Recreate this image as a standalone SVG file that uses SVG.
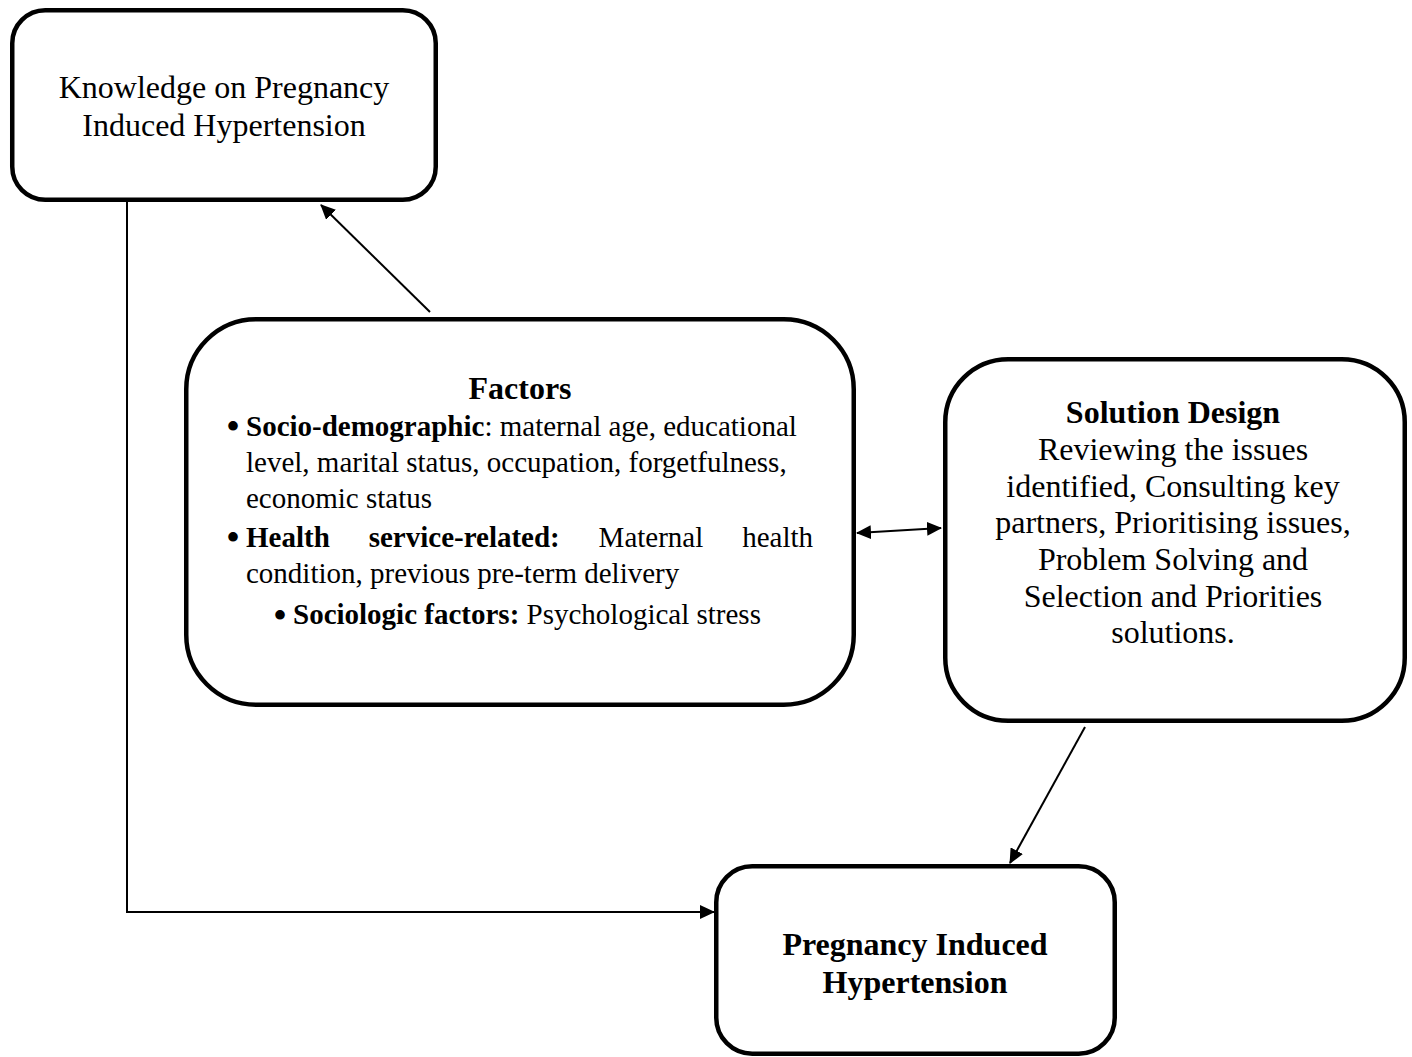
<svg xmlns="http://www.w3.org/2000/svg" width="1412" height="1057" viewBox="0 0 1412 1057">
  <style>
    .box { fill: #ffffff; stroke: #000000; stroke-width: 4.5; }
    .conn { fill: none; stroke: #000000; stroke-width: 2; }
    text { font-family: "Liberation Serif", "Times New Roman", serif; fill: #000000; }
    .t32 { font-size: 32px; }
    .t29 { font-size: 29px; }
    .bul { font-size: 40px; }
    .b { font-weight: bold; }
    .c { text-anchor: middle; }
  </style>
  <defs>
    <marker id="arr" viewBox="0 0 15 14" markerWidth="15" markerHeight="14" refX="14" refY="7" orient="auto-start-reverse" markerUnits="userSpaceOnUse">
      <path d="M0,0 L15,7 L0,14 z" fill="#000000"/>
    </marker>
  </defs>
  <rect width="1412" height="1057" fill="#ffffff"/>

  <g id="connectors">
    <line class="conn" x1="430" y1="312" x2="321" y2="205" marker-end="url(#arr)"/>
    <polyline class="conn" points="127,202 127,912 714,912" marker-end="url(#arr)"/>
    <line class="conn" x1="857" y1="533" x2="941" y2="528" marker-start="url(#arr)" marker-end="url(#arr)"/>
    <line class="conn" x1="1085" y1="727" x2="1010" y2="863" marker-end="url(#arr)"/>
  </g>

  <g id="knowledge">
    <rect class="box" x="12.25" y="10.25" width="423.5" height="189.5" rx="33" ry="33"/>
    <text class="t32 c" x="224" y="98">Knowledge on Pregnancy</text>
    <text class="t32 c" x="224" y="136">Induced Hypertension</text>
  </g>

  <g id="factors">
    <rect class="box" x="186.25" y="319.25" width="667.5" height="385.5" rx="70" ry="70"/>
    <text class="t32 b c" x="520" y="399">Factors</text>
    <text class="bul" x="226" y="440">•</text>
    <text class="t29" x="246" y="436"><tspan class="b">Socio-demographic</tspan>: maternal age, educational</text>
    <text class="t29" x="246" y="472">level, marital status, occupation, forgetfulness,</text>
    <text class="t29" x="246" y="508">economic status</text>
    <text class="bul" x="226" y="551">•</text>
    <text class="t29 b" x="246" y="547">Health</text>
    <text class="t29 b" x="368.7" y="547">service-related:</text>
    <text class="t29" x="598.6" y="547">Maternal</text>
    <text class="t29" x="742.2" y="547">health</text>
    <text class="t29" x="246" y="583">condition, previous pre-term delivery</text>
    <text class="bul" x="273" y="629">•</text>
    <text class="t29" x="293" y="624"><tspan class="b">Sociologic factors:</tspan> Psychological stress</text>
  </g>

  <g id="solution">
    <rect class="box" x="945.25" y="359.25" width="459.5" height="361.5" rx="63" ry="63"/>
    <text class="t32 b c" x="1173" y="423">Solution Design</text>
    <text class="t32 c" x="1173" y="460">Reviewing the issues</text>
    <text class="t32 c" x="1173" y="497">identified, Consulting key</text>
    <text class="t32 c" x="1173" y="533">partners, Prioritising issues,</text>
    <text class="t32 c" x="1173" y="570">Problem Solving and</text>
    <text class="t32 c" x="1173" y="607">Selection and Priorities</text>
    <text class="t32 c" x="1173" y="643">solutions.</text>
  </g>

  <g id="pih">
    <rect class="box" x="716.25" y="866.25" width="398.5" height="187.5" rx="36" ry="36"/>
    <text class="t32 b c" x="915" y="955">Pregnancy Induced</text>
    <text class="t32 b c" x="915" y="993">Hypertension</text>
  </g>
</svg>
